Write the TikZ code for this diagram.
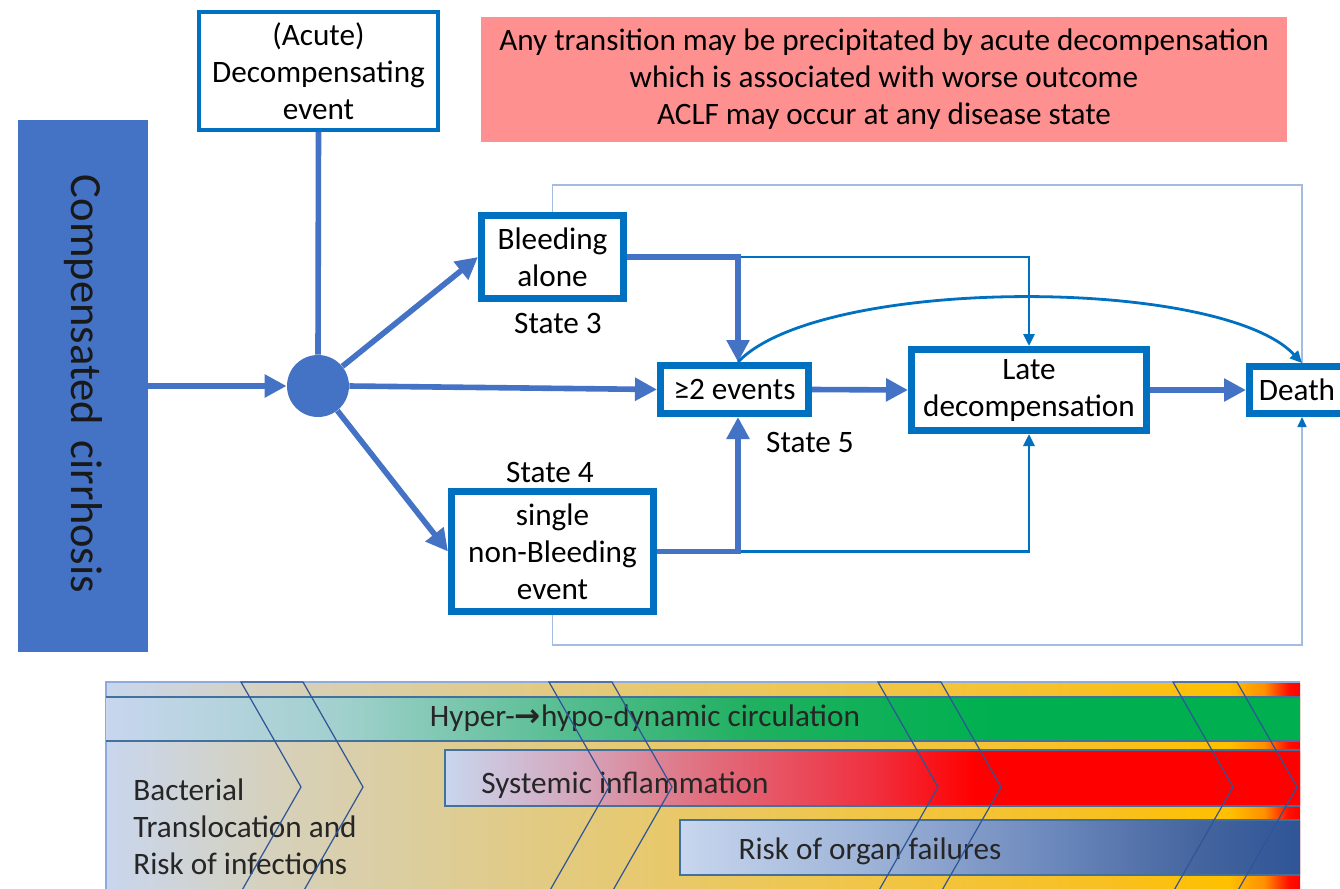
\documentclass[tikz,border=0pt]{standalone}
\usepackage{fontspec}
\setmainfont{Carlito}
\newfontfamily\dejavu{DejaVu Sans}
\usetikzlibrary{arrows.meta,calc}
\definecolor{boxblue}{HTML}{0070C0}
\definecolor{arrowblue}{HTML}{4472C4}
\definecolor{pinkfill}{HTML}{FF9090}
\definecolor{framecol}{HTML}{A4BCE4}
\definecolor{chevcol}{HTML}{2F5597}
\definecolor{stripline}{HTML}{41719C}
\definecolor{bandline}{HTML}{8FAADC}
% background colours
\definecolor{lb}{HTML}{C8D6EE}
\definecolor{bgA}{HTML}{D6D1BC}
\definecolor{bgB}{HTML}{E0CB88}
\definecolor{bgC}{HTML}{EFC64E}
\definecolor{bgD}{HTML}{F8C020}
\definecolor{bgE}{HTML}{FFC000}
\definecolor{bgF}{HTML}{FF9000}
\definecolor{bgG}{HTML}{FF1000}
% green
\definecolor{grA}{HTML}{A0D0CC}
\definecolor{grB}{HTML}{50BC8C}
\definecolor{grC}{HTML}{20B060}
\definecolor{grD}{HTML}{00B050}
% red
\definecolor{rdA}{HTML}{D4A8BE}
\definecolor{rdB}{HTML}{E07080}
\definecolor{rdC}{HTML}{F03040}
\definecolor{rdD}{HTML}{FF0000}
% blue
\definecolor{buA}{HTML}{9EB4D8}
\definecolor{buB}{HTML}{6C88BC}
\definecolor{buC}{HTML}{44649E}
\definecolor{buD}{HTML}{2F5597}
\pgfdeclarehorizontalshading{bgshade}{100bp}{color(0bp)=(lb); color(25bp)=(lb); color(32bp)=(bgA); color(42bp)=(bgB); color(55bp)=(bgC); color(67bp)=(bgD); color(72bp)=(bgE); color(73.5bp)=(bgF); color(74.5bp)=(bgG); color(75bp)=(rdD); color(100bp)=(rdD)}
\pgfdeclarehorizontalshading{greenshade}{100bp}{color(0bp)=(lb); color(25bp)=(lb); color(35bp)=(grA); color(45bp)=(grB); color(52bp)=(grC); color(62bp)=(grD); color(100bp)=(grD)}
\pgfdeclarehorizontalshading{redshade}{100bp}{color(0bp)=(lb); color(25bp)=(lb); color(32.5bp)=(rdA); color(40bp)=(rdB); color(50bp)=(rdC); color(56bp)=(rdD); color(100bp)=(rdD)}
\pgfdeclarehorizontalshading{blueshade}{100bp}{color(0bp)=(lb); color(25bp)=(lb); color(40bp)=(buA); color(55bp)=(buB); color(67bp)=(buC); color(75bp)=(buD); color(100bp)=(buD)}
\begin{document}
\begin{tikzpicture}[x=0.5pt,y=-0.5pt,
  font=\fontsize{15.6}{18.5}\selectfont,
  stbox/.style={draw=boxblue, line width=3.4pt, fill=white, align=center, inner sep=0pt},
  acbox/.style={draw=boxblue, line width=2pt, fill=white, align=center, inner sep=0pt},
  lbl/.style={inner sep=0pt},
  thickarr/.style={draw=arrowblue, line width=2.8pt, -{Triangle[length=11pt,width=11pt]}},
  thickline/.style={draw=arrowblue, line width=2.8pt},
  thinarr/.style={draw=boxblue, line width=1.4pt, -{Triangle[length=6pt,width=5.5pt]}},
  frameline/.style={draw=framecol, line width=0.8pt},
  chev/.style={draw=chevcol, line width=0.6pt},
  strip/.style={draw=stripline, line width=0.6pt},
  bandtext/.style={inner sep=0pt, text=black!85}
]
\clip (0,0) rectangle (1340,889);
\fill[white] (0,0) rectangle (1340,889);

% ---------- top part ----------
\node[fill=arrowblue, minimum width=65pt, minimum height=266pt, inner sep=0pt] (cirr) at (83,386) {};
\node[rotate=-90, font=\fontsize{22.3}{26}\selectfont, text=black!90] (cirrtext) at (83,384) {Compensated\hspace{0.35em}cirrhosis};

\node[acbox, minimum width=119.5pt, minimum height=59pt] (acute) at (318.5,71) {(Acute)\\Decompensating\\event};

\node[fill=pinkfill, minimum width=403pt, minimum height=62.5pt, align=center, inner sep=0pt] (pink) at (884,79.5)
  {Any transition may be precipitated by acute decompensation\\which is associated with worse outcome\\ACLF may occur at any disease state};

\node[circle, fill=arrowblue, minimum size=31pt, inner sep=0pt] (circ) at (318,386) {};

\node[stbox, minimum width=71.1pt, minimum height=41.6pt] (bleed) at (552.5,257) {Bleeding\\alone};
\node[stbox, minimum width=74.1pt, minimum height=24.1pt] (ev2) at (734.5,389.5) {≥2 events};
\node[stbox, minimum width=117.6pt, minimum height=40.6pt] (late) at (1029,390) {Late\\decompensation};
\node[stbox, minimum width=47.6pt, minimum height=23.6pt] (death) at (1297,390) {Death};
\node[stbox, minimum width=101.1pt, minimum height=60.1pt] (single) at (552.5,551.5) {single\\non-Bleeding\\event};

\node[lbl] (s3) at (558,323) {State 3};
\node[lbl] (s4) at (550,472) {State 4};
\node[lbl] (s5) at (810,442) {State 5};

% thin light frame
\draw[frameline] (bleed.north) -- ++(0,-27) -| ([xshift=2.5pt]death.north);
\draw[frameline, -{Triangle[length=5pt,width=4.5pt,color=boxblue]}] (single.south) -- ++(0,30) -| ([xshift=2.5pt]death.south);

% connectors
\draw[thickarr] (cirr.east) -- (circ.west);
\draw[thickline] (acute.south) -- (circ.north);
\draw[thickarr] (circ) -- (bleed.west);
\draw[thickarr] (circ.east) -- (ev2.west);
\draw[thickarr] (circ) -- (single.west);

\draw[thinarr] (bleed.east) -| (late.north);
\draw[thinarr] (single.east) -| (late.south);
\draw[thickarr] (bleed.east) -| ([xshift=1.75pt]ev2.north);
\draw[thickarr] (single.east) -| ([xshift=1.75pt]ev2.south);

\draw[thickarr] (ev2.east) -- (late.west);
\draw[thickarr] (late.east) -- (death.west);

\draw[thinarr] ([xshift=1.75pt]ev2.north) .. controls (820,276) and (1220,276) .. ([xshift=2.5pt]death.north);

% ---------- bottom band ----------
\path[shading=bgshade] (106,682) rectangle (1300,895);
\draw[bandline, line width=0.6pt] (1300,682) -- (106,682) -- (106,895);

\path[shading=greenshade] (106,697) rectangle (1300,741);
\draw[strip] (106,697) -- (1300,697) (106,741) -- (1300,741);

\path[shading=redshade] (445,750) rectangle (1300,806);
\draw[strip] (1300,750) -- (445,750) -- (445,806) -- (1300,806);

\path[shading=blueshade] (680,820) rectangle (1300,875);
\draw[strip] (1300,820) -- (680,820) -- (680,875) -- (1300,875);

\node[bandtext] (hyper) at (645,718) {Hyper-{\dejavu\bfseries →}hypo-dynamic circulation};
\node[bandtext] (sysinf) at (625,785) {Systemic inflammation};
\node[bandtext] (risk) at (870,851) {Risk of organ failures};
\node[bandtext, anchor=west, align=left] (bact) at (133,827) {Bacterial\\Translocation and\\Risk of infections};

\foreach \x/\w in {241/62,549/63,878/63,1173/64}
  \draw[chev] (\x,682) -- ++(\w,0) -- ++(60,105) -- ++(-60,105) -- ++(-\w,0) -- ++(60,-105) -- cycle;
\end{tikzpicture}
\end{document}
